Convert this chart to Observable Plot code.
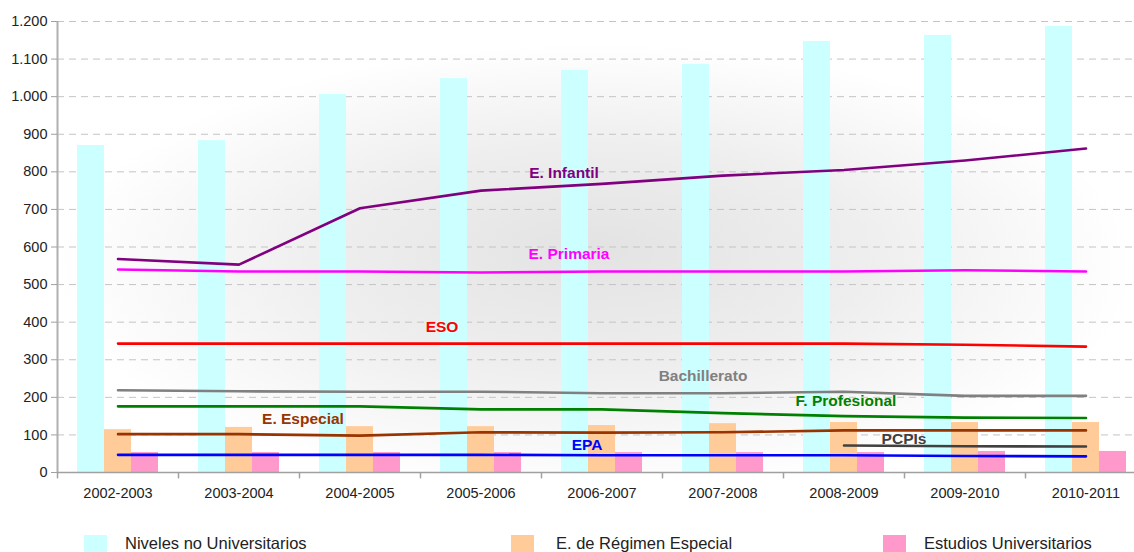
<!DOCTYPE html>
<html>
<head>
<meta charset="utf-8">
<script src="https://cdn.jsdelivr.net/npm/d3@7"></script>
<script src="https://cdn.jsdelivr.net/npm/@observablehq/plot@0.6"></script>
<style>
  html, body { margin: 0; padding: 0; background: #ffffff; }
  body { width: 1134px; height: 552px; overflow: hidden; font-family: "Liberation Sans", Arial, sans-serif; }
  #legend { position: relative; height: 22px; width: 1134px; }
  .item { position: absolute; top: 0; height: 22px; }
  .sw { position: absolute; top: 5px; width: 23px; height: 18px; }
  .lb { position: absolute; top: 4px; font-size: 16.5px; color: #222; white-space: nowrap; line-height: 18px; }
</style>
</head>
<body>
<div id="chart"></div>
<div id="legend"></div>
<script>
// ---- data ----
const categories = ["2002-2003","2003-2004","2004-2005","2005-2006","2006-2007","2007-2008","2008-2009","2009-2010","2010-2011"];

// bars
const nivelesNoUniversitarios = [870, 883, 1006, 1048, 1070, 1086, 1147, 1163, 1187];
const regimenEspecial        = [114, 120, 122, 122, 125, 130, 133, 133, 133];
const estudiosUniversitarios = [53, 53, 53, 53, 53, 53, 53, 56, 56];

// lines
const eInfantil     = [568, 553, 703, 750, 768, 790, 805, 830, 862];
const ePrimaria     = [540, 535, 535, 532, 535, 535, 535, 538, 535];
const eso           = [343, 343, 343, 343, 343, 343, 343, 340, 335];
const bachillerato  = [219, 216, 215, 215, 211, 211, 215, 204, 204];
const fProfesional  = [176, 176, 176, 168, 168, 158, 150, 146, 145];
const eEspecial     = [102, 102, 98, 107, 106, 107, 112, 112, 112];
const epa           = [47, 47, 47, 47, 46, 46, 46, 44, 43];
const pcpis         = [null, null, null, null, null, null, 72, 70, 69];

const barNames = ["Niveles no Universitarios", "E. de Régimen Especial", "Estudios Universitarios"];
const lineNames = ["E. Infantil", "E. Primaria", "ESO", "Bachillerato", "F. Profesional", "E. Especial", "EPA", "PCPIs"];

// label anchors: category, value (chart units)
const labelCats   = ["2006-2007", "2006-2007", "2005-2006", "2007-2008", "2008-2009", "2004-2005", "2006-2007", "2008-2009"];
const labelValues = [798, 580, 386, 258, 189, 141, 74, 90];

const yTicks = [0, 100, 200, 300, 400, 500, 600, 700, 800, 900, 1000, 1100, 1200];

// ---- styles ----
const barColors = ["#ccffff", "#ffcc99", "#ff99cc"];
const lineColors = ["#800080", "#ff00ff", "#ff0000", "#808080", "#008000", "#993300", "#0000ff", "#404040"];
const labelDx = [-38, -33, -39, -20, 2, -57, -15, 60];

// ---- build ----
const barSeries = [nivelesNoUniversitarios, regimenEspecial, estudiosUniversitarios];
const lineSeries = [eInfantil, ePrimaria, eso, bachillerato, fProfesional, eEspecial, epa, pcpis];

const barRows = barSeries.map(vals => categories.map((c, i) => ({cat: c, value: vals[i]})));
const lineRows = lineSeries.map(vals => categories.map((c, i) => ({cat: c, value: vals[i]})));

const esFmt = d3.formatLocale({decimal: ",", thousands: ".", grouping: [3], currency: ["", "€"]}).format(",");

const bandW = 121;
const barW = 27;
const groupStart = (bandW - 3 * barW) / 2;

const marks = [
  Plot.frame({fill: "#eeeeee", stroke: null}),
  Plot.ruleY(yTicks.filter(d => d > 0), {stroke: "#c4c4c4", strokeWidth: 1, strokeDasharray: "7,5"}),
];

barRows.forEach((rows, j) => {
  marks.push(Plot.barY(rows, {
    x: "cat", y: "value", fill: barColors[j],
    insetLeft: groupStart + j * barW,
    insetRight: bandW - groupStart - (j + 1) * barW
  }));
});

// axes lines
marks.push(Plot.ruleY([0], {stroke: "#a0a0a0", strokeWidth: 1.5}));
marks.push(Plot.ruleX([categories[0]], {dx: -bandW / 2, stroke: "#b0b0b0", strokeWidth: 2}));
marks.push(Plot.ruleX(categories, {x: d => d, y1: 0, y2: -17, dx: -bandW / 2, stroke: "#a0a0a0", strokeWidth: 1.5}));

lineRows.forEach((rows, j) => {
  marks.push(Plot.line(rows, {x: "cat", y: "value", stroke: lineColors[j], strokeWidth: 2.6}));
});

lineNames.forEach((name, j) => {
  marks.push(Plot.text([name], {
    x: () => labelCats[j], y: () => labelValues[j], text: d => d,
    dx: labelDx[j], fill: lineColors[j], fontWeight: "bold", fontSize: 15.5
  }));
});

marks.push(Plot.axisY({ticks: yTicks, tickFormat: esFmt, tickSize: 6, tickPadding: 4, fontSize: 14.5, stroke: "#a0a0a0", color: "#222", label: null}));
marks.push(Plot.axisX({tickSize: 0, tickPadding: 15, fontSize: 14.5, color: "#222", label: null}));

const chart = Plot.plot({
  width: 1134,
  height: 530,
  marginLeft: 57,
  marginRight: 0,
  marginTop: 21,
  marginBottom: 58,
  style: {fontFamily: "Liberation Sans, Arial, sans-serif", background: "#ffffff", overflow: "hidden"},
  x: {type: "band", domain: categories, range: [57, 57 + 9 * bandW], padding: 0, axis: null, label: null},
  y: {domain: [0, 1200], range: [472, 21], axis: null, label: null},
  marks
});

// background gradient
const ns = "http://www.w3.org/2000/svg";
const defs = document.createElementNS(ns, "defs");
defs.innerHTML = `<radialGradient id="bgGrad" cx="0.5" cy="0.55" r="0.5" fx="0.5" fy="0.5">
  <stop offset="0" stop-color="#e3e3e3"/>
  <stop offset="0.5" stop-color="#eeeeee"/>
  <stop offset="1" stop-color="#ffffff"/>
</radialGradient>`;
chart.insertBefore(defs, chart.firstChild);
const frameRect = chart.querySelector('[aria-label="frame"]');
if (frameRect) {
  const r = frameRect.tagName.toLowerCase() === "rect" ? frameRect : frameRect.querySelector("rect");
  if (r) r.setAttribute("fill", "url(#bgGrad)");
}
document.getElementById("chart").appendChild(chart);

// legend
const legendLefts = [84, 511, 883];
const legendTextOffsets = [41, 45, 41];
const legend = document.getElementById("legend");
barNames.forEach((name, j) => {
  const it = document.createElement("div");
  it.className = "item";
  it.style.left = legendLefts[j] + "px";
  const sw = document.createElement("div");
  sw.className = "sw";
  sw.style.left = "0px";
  sw.style.background = barColors[j];
  const lb = document.createElement("div");
  lb.className = "lb";
  lb.style.left = legendTextOffsets[j] + "px";
  lb.textContent = name;
  it.appendChild(sw);
  it.appendChild(lb);
  legend.appendChild(it);
});
</script>
</body>
</html>
